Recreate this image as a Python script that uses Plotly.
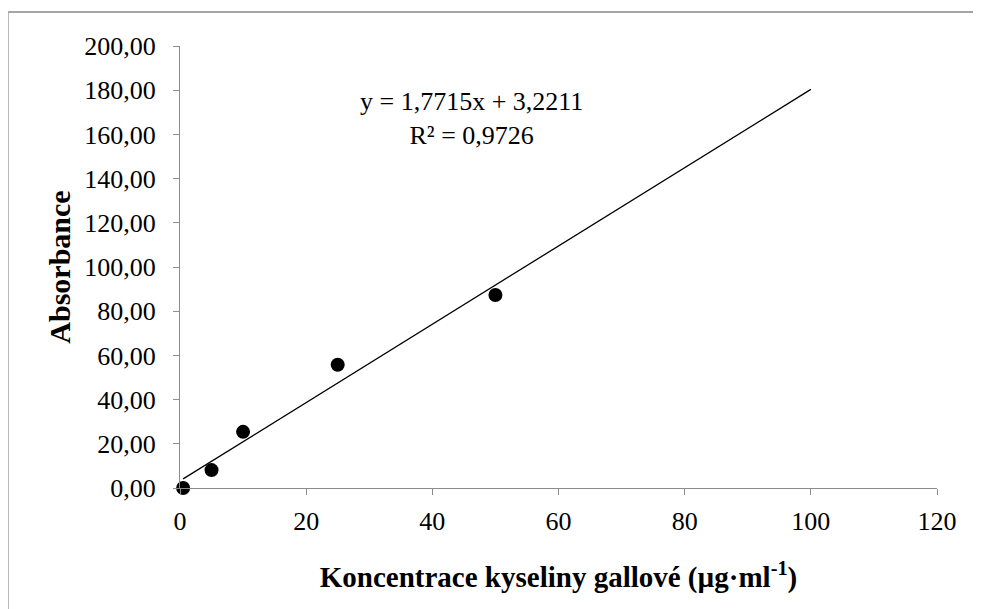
import plotly.graph_objects as go

# Data
concentration = [0.5, 5, 10, 25, 50]          # µg·ml-1
absorbance = [0.0, 8.1, 25.4, 55.8, 87.3]

# Linear trendline reported on the chart
slope = 1.7715
intercept = 3.2211
trend_x = [0.5, 100]
trend_y = [slope * v + intercept for v in trend_x]

y_ticks = [0, 20, 40, 60, 80, 100, 120, 140, 160, 180, 200]
x_ticks = [0, 20, 40, 60, 80, 100, 120]

FONT = "Liberation Serif"
AXIS_COLOR = "#8c8c8c"

fig = go.Figure()
fig.add_trace(go.Scatter(
    x=trend_x, y=trend_y, mode="lines",
    line=dict(color="black", width=1.3),
    showlegend=False, hoverinfo="skip"))
fig.add_trace(go.Scatter(
    x=concentration, y=absorbance, mode="markers",
    marker=dict(color="black", size=14),
    cliponaxis=False,
    showlegend=False))

fig.update_layout(
    width=973, height=601,
    margin=dict(l=172, r=44, t=38, b=121),
    paper_bgcolor="white", plot_bgcolor="white",
    separators=", ",
    font=dict(family=FONT, color="black", size=26),
    xaxis=dict(
        range=[0, 120], tickvals=x_ticks, tickformat="d",
        showgrid=False, zeroline=False,
        showline=True, linecolor=AXIS_COLOR, linewidth=1,
        ticks="outside", ticklen=6, tickcolor=AXIS_COLOR, tickwidth=1,
        ticklabelstandoff=4,
        tickfont=dict(family=FONT, size=26, color="black"),
        title=dict(text="<b>Koncentrace kyseliny gallové (µg·ml<sup>-1</sup>)</b>",
                   font=dict(family=FONT, size=29, color="black"), standoff=31),
        automargin=False,
    ),
    yaxis=dict(
        range=[0, 200], tickvals=y_ticks, tickformat=".2f",
        showgrid=False, zeroline=False,
        showline=True, linecolor=AXIS_COLOR, linewidth=1,
        ticks="outside", ticklen=6, tickcolor=AXIS_COLOR, tickwidth=1,
        ticklabelstandoff=12,
        tickfont=dict(family=FONT, size=26, color="black"),
        title=dict(text="<b>Absorbance</b>",
                   font=dict(family=FONT, size=30, color="black"), standoff=4),
        automargin=False,
    ),
    annotations=[dict(
        x=46.2, y=167, xref="x", yref="y",
        text="y = 1,7715x + 3,2211<br>R² = 0,9726",
        showarrow=False, align="center",
        font=dict(family=FONT, size=26, color="black"))],
    shapes=[dict(
        type="rect", xref="paper", yref="paper",
        x0=-0.2275, x1=1.08, y0=-0.35, y1=1.0769,
        line=dict(color="#a6a6a6", width=2), layer="below")],
)

fig.write_html("out.html")
